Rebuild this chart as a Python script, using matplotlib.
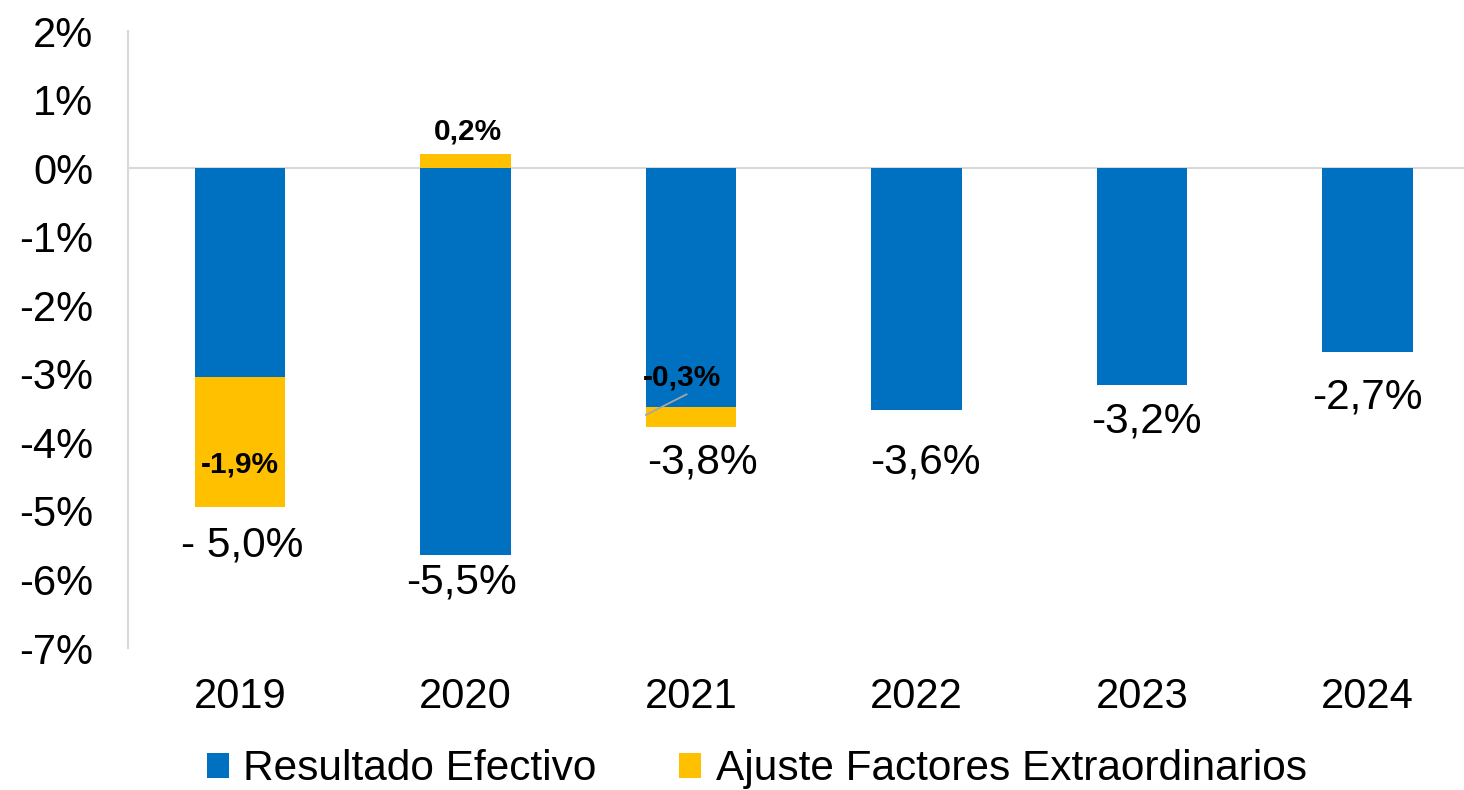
import matplotlib
matplotlib.use("Agg")
import matplotlib.pyplot as plt
from matplotlib.patches import Patch

plt.rcParams["font.family"] = ["Liberation Sans", "DejaVu Sans"]

# ── data ──────────────────────────────────────────────────────────────────────
years = ["2019", "2020", "2021", "2022", "2023", "2024"]
resultado = [-3.05, -5.65, -3.48, -3.53, -3.17, -2.68]
ajuste = [-1.9, 0.2, -0.3, 0.0, 0.0, 0.0]
total_labels = ["- 5,0%", "-5,5%", "-3,8%", "-3,6%", "-3,2%", "-2,7%"]
ajuste_labels = ["-1,9%", "0,2%", "-0,3%", "", "", ""]
y_ticks = [2, 1, 0, -1, -2, -3, -4, -5, -6, -7]

# label placement (manual, as in the original text boxes)
total_xy = [(0.01, -5.51), (0.98, -6.05), (2.05, -4.29),
            (3.04, -4.29), (4.02, -3.70), (5.00, -3.34)]
ajuste_xy = [(0.0, -4.33), (1.01, 0.53), (1.96, -3.05)]

BLUE = "#0070C0"
YELLOW = "#FFC000"
GRID = "#D9D9D9"

fig = plt.figure(figsize=(14.64, 7.90), dpi=100)
ax = fig.add_axes([128 / 1464, 1 - 648 / 790, 1 - 128 / 1464, (648 - 31) / 790])

x = list(range(len(years)))
width = 0.40

ax.bar(x, resultado, width=width, color=BLUE, zorder=2)
# yellow stacks on the end of the blue bar when negative, above zero when positive
bottoms = [r if a < 0 else 0 for r, a in zip(resultado, ajuste)]
ax.bar(x, ajuste, width=width, bottom=bottoms, color=YELLOW, zorder=2)

ax.axhline(0, color=GRID, lw=1.5, zorder=1)

for (tx, ty), lab in zip(total_xy, total_labels):
    ax.text(tx, ty, lab, ha="center", va="center", fontsize=30.5)

for (tx, ty), lab in zip(ajuste_xy, [l for l in ajuste_labels if l]):
    ax.text(tx, ty, lab, ha="center", va="center", fontsize=21.5,
            fontweight="bold", zorder=4)

# leader line for the small 2021 adjustment
ax.plot([1.8, 1.98], [-3.6, -3.3], color="#A6A6A6", lw=1.3, zorder=3)

ax.set_xlim(-0.497, 5.428)
ax.set_ylim(-7, 2)
ax.set_yticks(y_ticks)
ax.set_yticklabels([f"{v}%" for v in y_ticks], fontsize=30)
ax.set_xticks(x)
ax.set_xticklabels(years, fontsize=30)
ax.tick_params(axis="both", length=0)
ax.tick_params(axis="y", pad=25)
ax.tick_params(axis="x", pad=21)

for side in ["top", "right", "bottom"]:
    ax.spines[side].set_visible(False)
ax.spines["left"].set_color(GRID)
ax.spines["left"].set_linewidth(1.5)

handles = [Patch(facecolor=BLUE, label="Resultado Efectivo"),
           Patch(facecolor=YELLOW, label="Ajuste Factores Extraordinarios")]
fig.legend(handles=handles, loc="center", bbox_to_anchor=(0.517, 0.026),
           ncol=2, frameon=False, fontsize=30.5, handlelength=0.52,
           handleheight=0.52, handletextpad=0.35, columnspacing=1.95,
           borderpad=0)

plt.savefig("out.png", dpi=100)
